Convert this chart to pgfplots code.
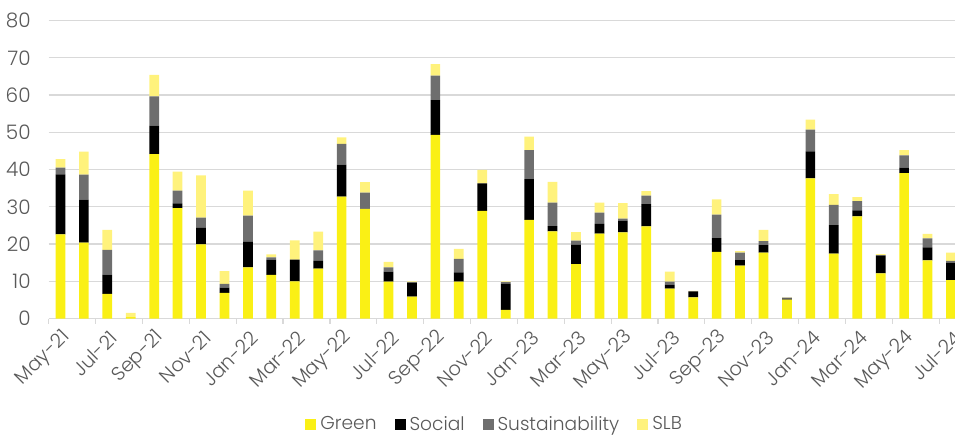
\documentclass[border=0pt]{standalone}
\usepackage{fontspec}
\setmainfont{Poppins Light}
\usepackage{pgfplots}
\pgfplotsset{compat=1.18}
\usepackage{pgfplotstable}

\definecolor{cGreen}{HTML}{FAF015}
\definecolor{cSocial}{HTML}{000000}
\definecolor{cSust}{HTML}{6E6E6E}
\definecolor{cSLB}{HTML}{FFF27C}
\definecolor{cText}{HTML}{595959}
\definecolor{cGrid}{HTML}{D9D9D9}

\pgfplotstableread{
idx G So Su SLB
0 22.6 16.1 1.8 2.3
1 20.4 11.5 6.7 6.2
2 6.6 5.2 6.6 5.4
3 0.4 0 0 1.1
4 44.1 7.7 7.8 5.8
5 29.6 1.3 3.4 5.1
6 19.9 4.4 2.8 11.3
7 6.9 1.4 1.0 3.4
8 13.7 6.9 7.0 6.7
9 11.7 4.1 0.6 0.8
10 10.0 5.8 0 5.2
11 13.4 2.1 2.8 5.0
12 32.7 8.6 5.6 1.7
13 29.4 0 4.4 2.8
14 9.9 2.7 1.1 1.5
15 5.9 3.7 0.2 0.2
16 49.3 9.3 6.6 3.1
17 9.9 2.5 3.6 2.7
18 28.9 7.4 0 3.6
19 2.3 7.0 0.5 0.2
20 26.5 10.9 7.8 3.6
21 23.4 1.4 6.3 5.6
22 14.6 5.2 1.1 2.3
23 22.8 2.6 3.0 2.7
24 23.1 3.2 0.5 4.2
25 24.7 6.0 2.3 1.2
26 8.0 1.1 0.8 2.7
27 5.7 1.6 0 0.1
28 17.9 3.7 6.3 4.1
29 14.2 1.5 2.0 0.4
30 17.7 2.0 1.1 3.0
31 5.1 0.2 0.3 0.1
32 37.6 7.3 5.8 2.7
33 17.4 7.7 5.4 2.9
34 27.4 1.6 2.5 1.1
35 12.1 4.7 0.2 0.3
36 39.0 1.5 3.3 1.4
37 15.6 3.5 2.4 1.2
38 10.3 4.7 0.5 2.2
}\data

\begin{document}
\begin{tikzpicture}
\path[use as bounding box] (-24.35pt,-58.25pt) rectangle (453.15pt,159.25pt);
\clip (-24.35pt,-58.25pt) rectangle (453.15pt,159.25pt);
\begin{axis}[
  at={(0pt,0pt)}, anchor=south west,
  width=457pt, height=149pt, scale only axis,
  ybar stacked, bar width=0.414,
  xmin=-0.5, xmax=38.5, ymin=0, ymax=80,
  ytick={0,10,...,80},
  ymajorgrids, grid style={cGrid, line width=0.6pt},
  axis x line*=bottom, axis y line*=left,
  x axis line style={cGrid, line width=0.6pt, -},
  y axis line style={draw=none},
  ytick style={draw=none},
  xtick={0,2,...,38},
  xticklabels={May-21,Jul-21,Sep-21,Nov-21,Jan-22,Mar-22,May-22,Jul-22,Sep-22,Nov-22,Jan-23,Mar-23,May-23,Jul-23,Sep-23,Nov-23,Jan-24,Mar-24,May-24,Jul-24},
  major x tick style={draw=none},
  minor xtick={-0.5,1.5,...,37.5},
  minor x tick style={cGrid, line width=0.6pt},
  xtick align=outside, minor tick length=2.5pt,
  tick label style={font=\fontsize{10}{12}\selectfont, text=cText},
  yticklabel style={xshift=-5.5pt},
  xticklabel style={font=\fontsize{9.7}{11}\selectfont, rotate=45, anchor=east, yshift=-5pt, xshift=3.2pt},
  /pgf/number format/assume math mode=true,
  legend style={at={(0.489,-0.357)}, anchor=center, draw=none, fill=none,
    legend columns=4, font=\fontsize{9.3}{11}\selectfont, text=cText,
    /tikz/every even column/.append style={column sep=7pt}},
  legend cell align=left,
  legend image code/.code={\fill[#1] (0pt,-2.75pt) rectangle (5.5pt,2.75pt);},
]
\addplot[fill=cGreen, draw=none] table[x=idx,y=G]{\data};
\addplot[fill=cSocial, draw=none] table[x=idx,y=So]{\data};
\addplot[fill=cSust, draw=none] table[x=idx,y=Su]{\data};
\addplot[fill=cSLB, draw=none] table[x=idx,y=SLB]{\data};
\legend{Green,Social,Sustainability,SLB}
\end{axis}
\end{tikzpicture}
\end{document}
